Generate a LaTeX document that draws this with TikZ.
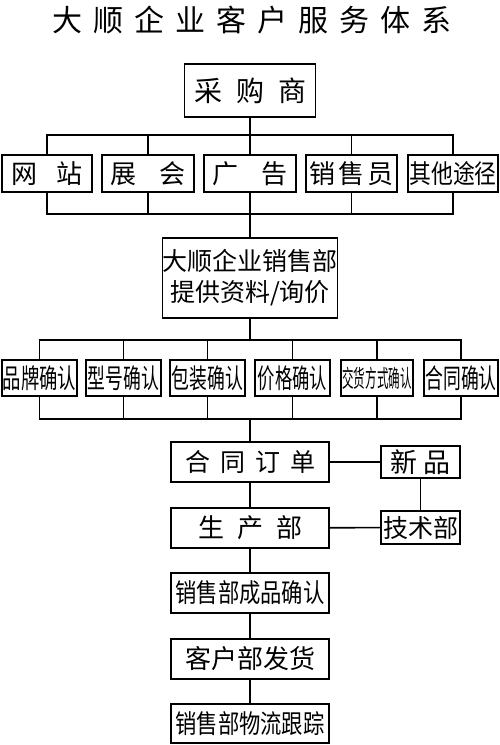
\documentclass[tikz,border=0pt]{standalone}
\usepackage{fontspec}
\setmainfont{Noto Sans CJK SC}
\newcommand{\cjkt}[3]{\fontsize{#1pt}{#1pt}\selectfont\scalebox{#2}[1]{#3}}
\newcommand{\gp}[1]{\hspace{#1pt}}
\tikzset{
  bx/.style={draw, line width=1.6pt, inner sep=0pt, align=center},
  ln/.style={line width=1.6pt},
}
\begin{document}
\begin{tikzpicture}[x=1pt,y=-1pt]
\useasboundingbox (0,0) rectangle (500,745);
% title
\node[inner sep=0pt] (title) at (252,20) {\cjkt{30}{1}{大\gp{11}顺\gp{11}企\gp{11}业\gp{11}客\gp{11}户\gp{11}服\gp{11}务\gp{11}体\gp{11}系}};
% top
\node[bx, minimum width=131pt, minimum height=53pt] (buyer) at (250,90.5) {\cjkt{28}{1}{采\gp{14}购\gp{14}商}};
% channels
\node[bx, minimum width=90pt, minimum height=37pt] (web) at (47,173.5) {\cjkt{26}{1}{网\gp{20}站}};
\node[bx, minimum width=92pt, minimum height=37pt] (expo) at (148,173.5) {\cjkt{26}{1}{展\gp{23}会}};
\node[bx, minimum width=92pt, minimum height=37pt] (ad) at (250,173.5) {\cjkt{26}{1}{广\gp{24}告}};
\node[bx, minimum width=91pt, minimum height=37pt] (sales) at (351.5,173.5) {\cjkt{26}{1}{销\gp{3}售\gp{3}员}};
\node[bx, minimum width=90pt, minimum height=37pt] (other) at (453,173.5) {\cjkt{26}{0.84}{其他途径}};
\coordinate (b1) at (250,135);
\coordinate (b2) at (250,214);
\draw[ln] (buyer.south) -- (b1);
\foreach \n in {web,expo,ad,sales,other} {
  \draw[ln] (\n.north) |- (b1);
  \draw[ln] (\n.south) |- (b2);
}
% sales dept
\node[bx, minimum width=158pt, minimum height=80pt, font={\fontsize{25pt}{31pt}\selectfont}] (dept) at (250,278) {大顺企业销售部\\提供资料/询价};
\draw[ln] (b2) -- (dept.north);
% confirmations
\node[bx, minimum width=75pt, minimum height=36pt] (c1) at (39.5,378) {\cjkt{27}{0.68}{品牌确认}};
\node[bx, minimum width=75pt, minimum height=36pt] (c2) at (123.5,378) {\cjkt{27}{0.66}{型号确认}};
\node[bx, minimum width=75pt, minimum height=36pt] (c3) at (207.5,378) {\cjkt{27}{0.66}{包装确认}};
\node[bx, minimum width=75pt, minimum height=36pt] (c4) at (292.5,378) {\cjkt{27}{0.64}{价格确认}};
\node[bx, minimum width=72pt, minimum height=36pt] (c5) at (377,378) {\cjkt{24}{0.48}{交货方式确认}};
\node[bx, minimum width=74pt, minimum height=36pt] (c6) at (461,378) {\cjkt{27}{0.66}{合同确认}};
\coordinate (b3) at (250,340);
\coordinate (b4) at (250,419);
\draw[ln] (dept.south) -- (b3);
\foreach \n in {c1,c2,c3,c4,c5,c6} {
  \draw[ln] (\n.north) |- (b3);
  \draw[ln] (\n.south) |- (b4);
}
% lower chain
\node[bx, minimum width=158pt, minimum height=40pt] (order) at (250,462) {\cjkt{25}{1}{合\gp{10}同\gp{10}订\gp{10}单}};
\node[bx, minimum width=79pt, minimum height=32pt] (new) at (420.5,462) {\cjkt{27}{1}{新\gp{6}品}};
\node[bx, minimum width=158pt, minimum height=40pt] (prod) at (250,528) {\cjkt{26}{1}{生\gp{13}产\gp{13}部}};
\node[bx, minimum width=79pt, minimum height=33pt] (tech) at (420.5,527.5) {\cjkt{25}{1}{技术部}};
\node[bx, minimum width=158pt, minimum height=40pt] (conf) at (250,593) {\cjkt{26}{0.82}{销售部成品确认}};
\node[bx, minimum width=158pt, minimum height=40pt] (ship) at (250,659) {\cjkt{26}{1}{客户部发货}};
\node[bx, minimum width=158pt, minimum height=39pt] (track) at (250,723.5) {\cjkt{26}{0.82}{销售部物流跟踪}};
\draw[ln] (b4) -- (order.north);
\draw[ln] (order) -- (new);
\draw[ln] (new) -- (tech);
\draw[ln] (prod) -- (tech);
\draw[ln] (order) -- (prod);
\draw[ln] (prod) -- (conf);
\draw[ln] (conf) -- (ship);
\draw[ln] (ship) -- (track);
\end{tikzpicture}
\end{document}
